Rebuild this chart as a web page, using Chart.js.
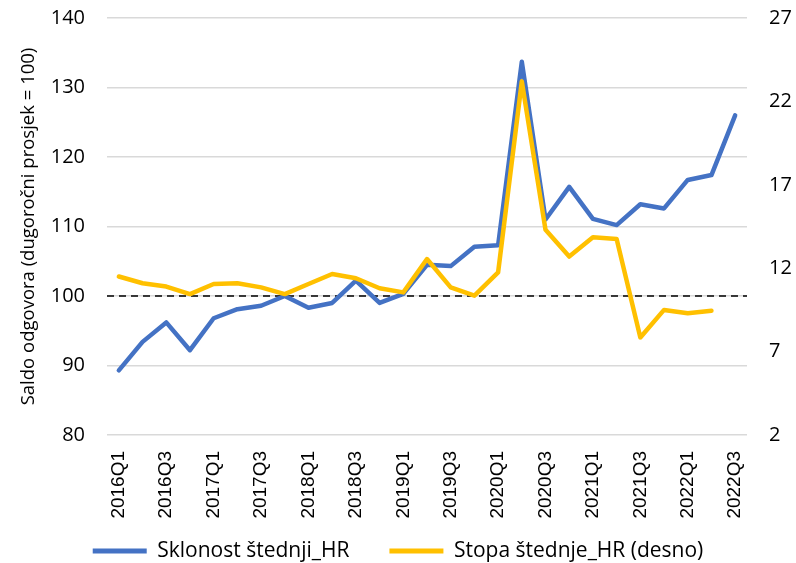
<!DOCTYPE html>
<html>
<head>
<meta charset="utf-8">
<script src="https://cdn.jsdelivr.net/npm/chart.js@4/dist/chart.umd.min.js"></script>
<style>
  html, body { margin: 0; padding: 0; background: #fff; }
  #wrap { width: 796px; height: 563px; }
</style>
</head>
<body>
<div id="wrap"><canvas id="myChart"></canvas></div>
<script>
var quarters = ['2016Q1','2016Q2','2016Q3','2016Q4','2017Q1','2017Q2','2017Q3','2017Q4',
    '2018Q1','2018Q2','2018Q3','2018Q4','2019Q1','2019Q2','2019Q3','2019Q4',
    '2020Q1','2020Q2','2020Q3','2020Q4','2021Q1','2021Q2','2021Q3','2021Q4',
    '2022Q1','2022Q2','2022Q3'];
var sklonost = [89.3, 93.4, 96.2, 92.2, 96.8, 98.1, 98.6, 100.0, 98.3, 99.0, 102.2, 99.0, 100.3, 104.5,
    104.3, 107.1, 107.3, 133.7, 111.0, 115.7, 111.1, 110.2, 113.2, 112.6, 116.7, 117.4, 126.0];
var stopa = [11.5, 11.1, 10.9, 10.45, 11.05, 11.1, 10.85, 10.45, 11.05, 11.65, 11.4, 10.8, 10.55, 12.55,
    10.85, 10.35, 11.75, 23.2, 14.3, 12.7, 13.85, 13.75, 7.85, 9.5, 9.3, 9.45, null];
var referenceLevel = 100;
var leftTicks = { min: 80, max: 140, step: 10 };
var rightTicks = { min: 2, max: 27, step: 5 };

var textFont = 'Open Sans';

// horizontal dashed line at long-run average
var refLine = {
    id: 'refLine',
    beforeDatasetsDraw: function(chart) {
        var ctx = chart.ctx;
        var area = chart.chartArea;
        var y = chart.scales.y.getPixelForValue(referenceLevel);
        ctx.save();
        ctx.strokeStyle = '#000';
        ctx.lineWidth = 1.6;
        ctx.setLineDash([7, 5]);
        ctx.beginPath();
        ctx.moveTo(area.left, y);
        ctx.lineTo(area.right, y);
        ctx.stroke();
        ctx.restore();
    }
};

// legend sits close under the axis, so let the rotated quarter labels run past the axis box
var labelRoom = {
    id: 'labelRoom',
    afterLayout: function(chart) {
        var x = chart.scales.x;
        x.bottom = x.top + 95;
    }
};

function fixVertical(width) {
    return function(s) {
        s.width = width;
        s.paddingTop = 18;
        s.paddingBottom = 0;
    };
}

function showChart() {
    var data = {
        labels: quarters,
        datasets: [{
            label: 'Sklonost štednji_HR',
            data: sklonost,
            borderColor: '#4472C4',
            backgroundColor: '#4472C4',
            borderWidth: 4.5,
            yAxisID: 'y',
            order: 1
        }, {
            label: 'Stopa štednje_HR (desno)',
            data: stopa,
            borderColor: '#FFC000',
            backgroundColor: '#FFC000',
            borderWidth: 4.5,
            yAxisID: 'y1',
            order: 0
        }]
    };
    var options = {
        responsive: true,
        maintainAspectRatio: false,
        animation: false,
        layout: { padding: 0 },
        elements: {
            line: { tension: 0, borderCapStyle: 'round', borderJoinStyle: 'round' },
            point: { radius: 0 }
        },
        plugins: {
            tooltip: { enabled: false },
            legend: {
                position: 'bottom',
                maxHeight: 62.5,
                labels: {
                    font: { family: textFont, size: 21 },
                    color: '#000',
                    boxWidth: 54,
                    boxHeight: 5,
                    padding: 40,
                    sort: function(a, b) { return a.datasetIndex - b.datasetIndex; },
                    generateLabels: function(chart) {
                        var items = Chart.defaults.plugins.legend.labels.generateLabels(chart);
                        items.forEach(function(it) { it.lineWidth = 0; });
                        return items;
                    }
                }
            }
        },
        scales: {
            x: {
                offset: true,
                grid: { display: false },
                border: { display: false },
                ticks: {
                    autoSkip: false,
                    minRotation: 90,
                    maxRotation: 90,
                    color: '#000',
                    padding: 8,
                    font: { family: 'Liberation Sans', size: 19 },
                    callback: function(v, i) { return i % 2 === 0 ? quarters[i] : ''; }
                },
                afterFit: function(s) { s.height = 65.5; }
            },
            y: {
                position: 'left',
                min: leftTicks.min,
                max: leftTicks.max,
                border: { display: false },
                grid: { color: '#d9d9d9', lineWidth: 1.5, drawTicks: false },
                ticks: {
                    stepSize: leftTicks.step,
                    color: '#000',
                    padding: 22,
                    font: { family: textFont, size: 20 }
                },
                title: {
                    display: true,
                    text: 'Saldo odgovora (dugoročni prosjek = 100)',
                    color: '#000',
                    font: { family: textFont, size: 18.5 },
                    padding: { top: 18, bottom: 0 }
                },
                afterFit: fixVertical(107)
            },
            y1: {
                position: 'right',
                min: rightTicks.min,
                max: rightTicks.max,
                border: { display: false },
                grid: { display: false, drawTicks: false },
                ticks: {
                    stepSize: rightTicks.step,
                    color: '#000',
                    padding: 22,
                    font: { family: textFont, size: 20 }
                },
                afterFit: fixVertical(49)
            }
        }
    };
    new Chart(document.getElementById('myChart'), {
        type: 'line',
        data: data,
        options: options,
        plugins: [refLine, labelRoom]
    });
}

window.onload = showChart;
</script>
</body>
</html>
